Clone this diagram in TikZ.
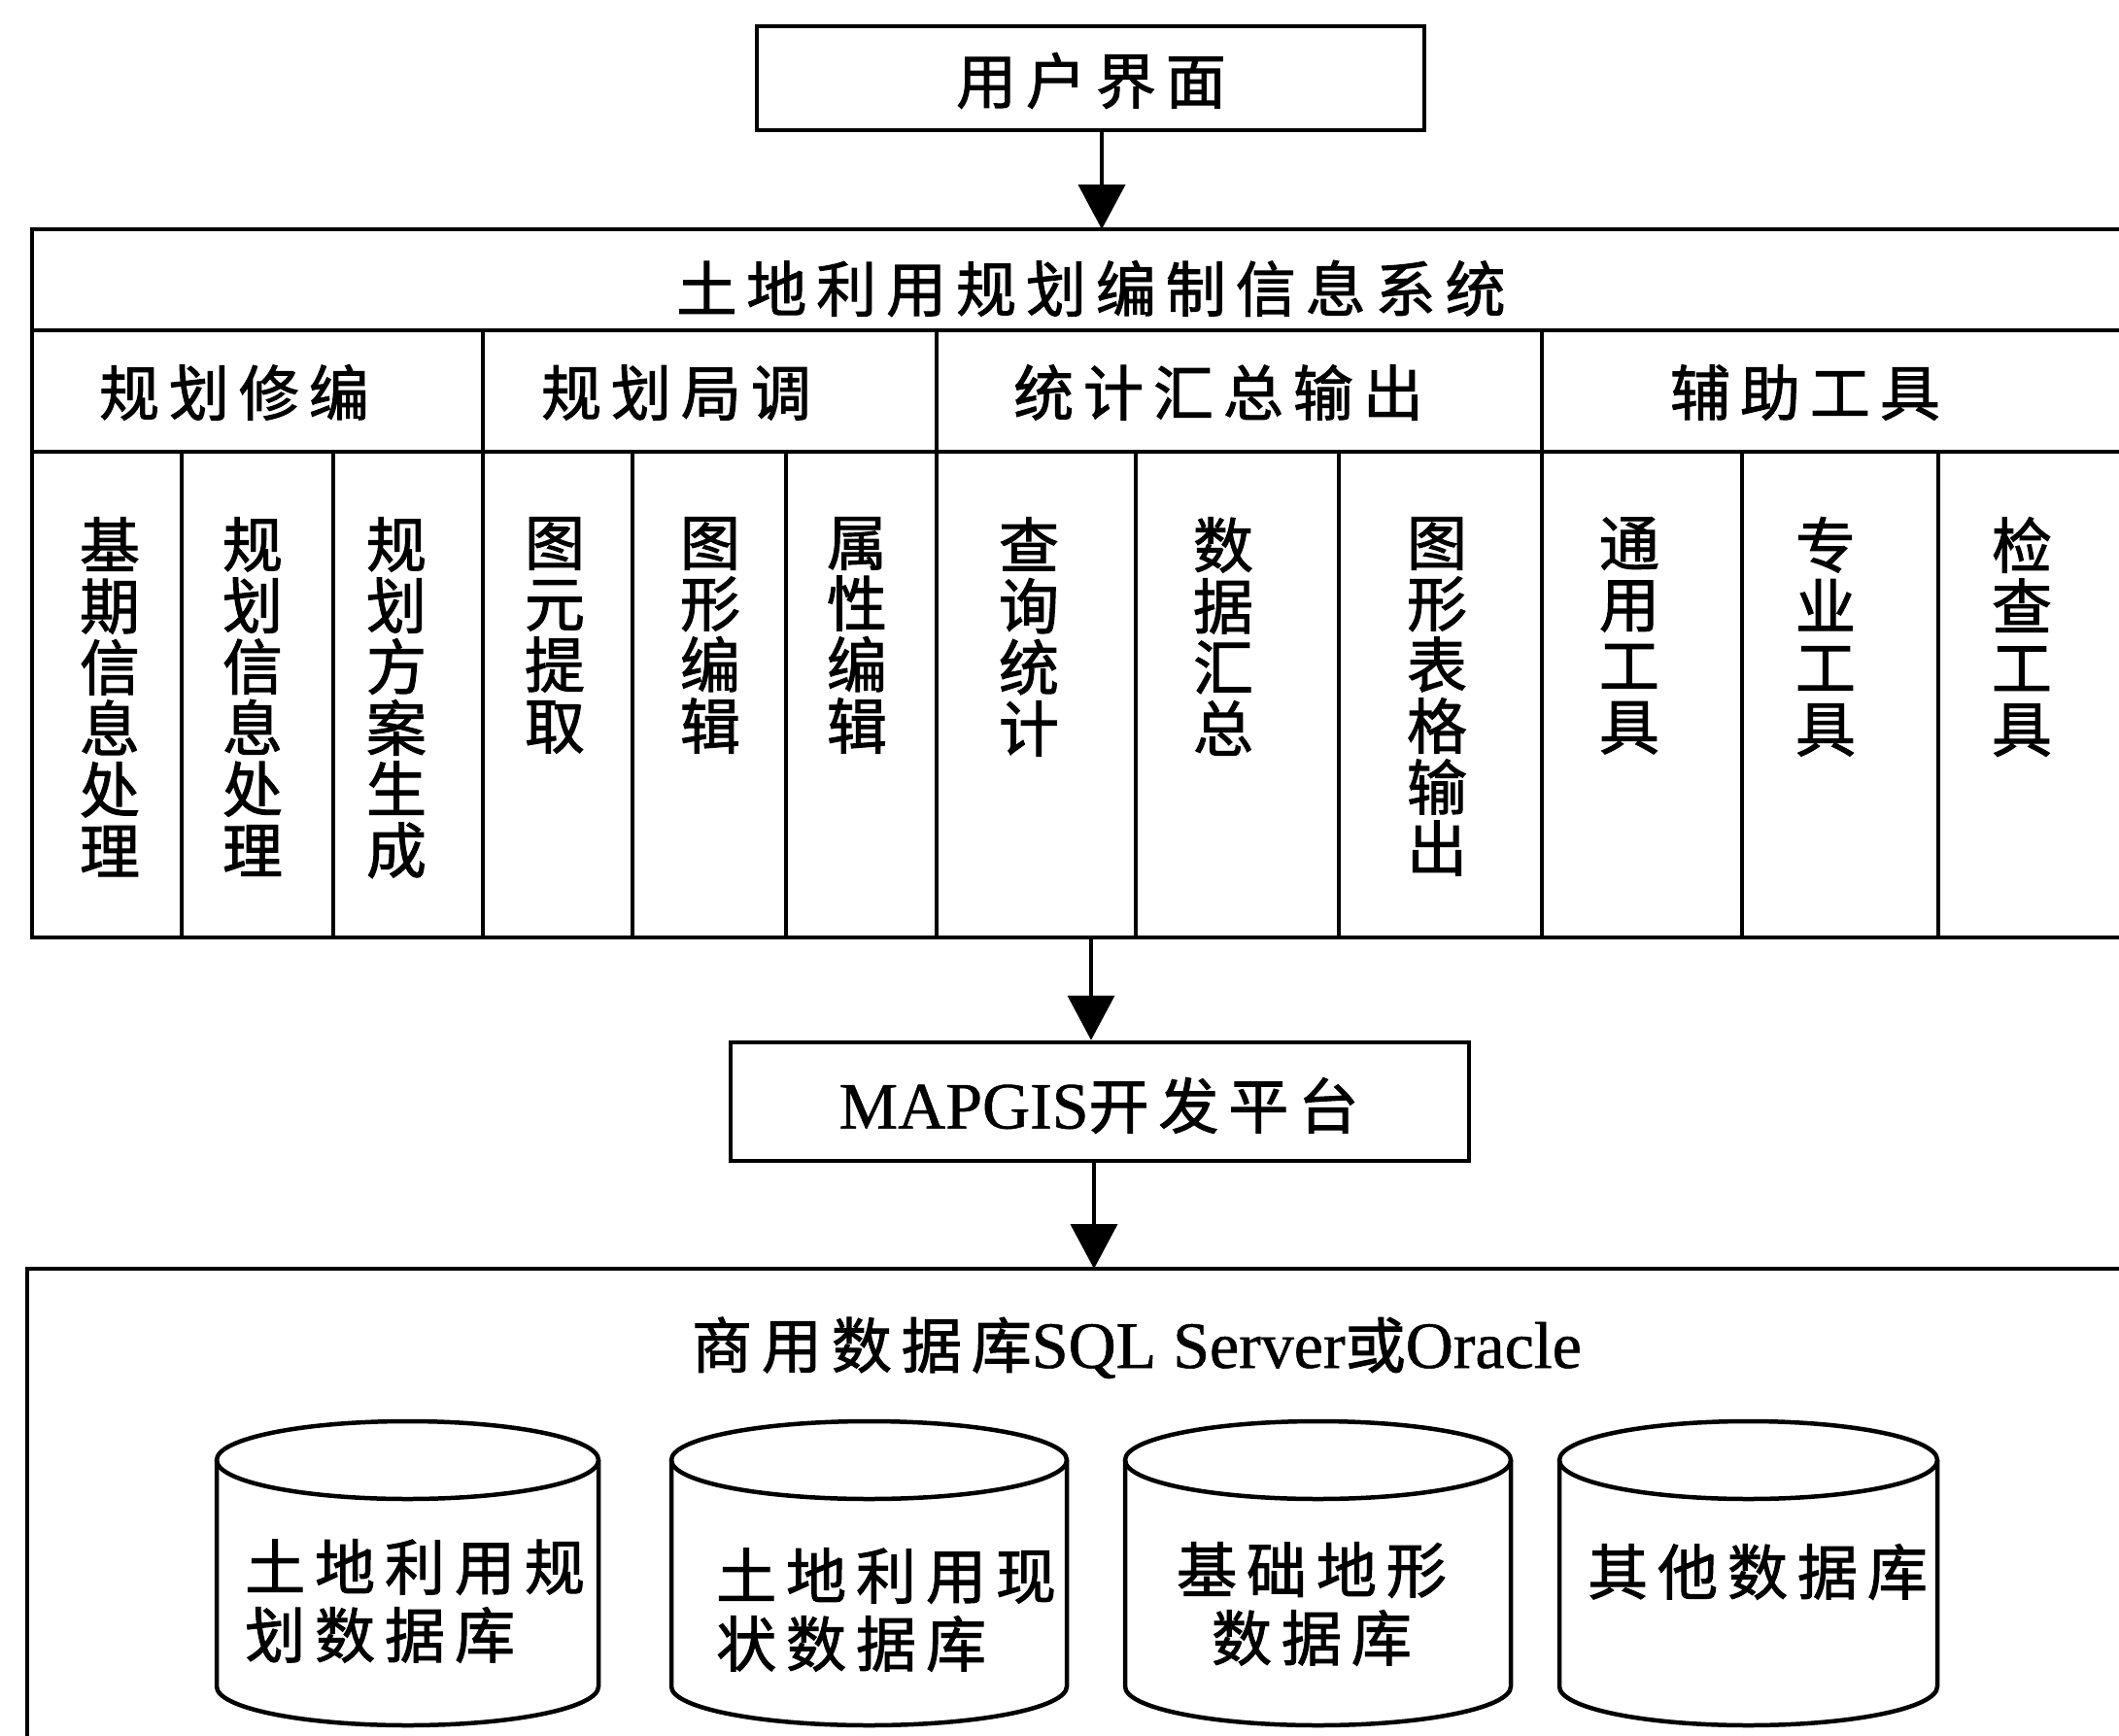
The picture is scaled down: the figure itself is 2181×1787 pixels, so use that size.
\documentclass[tikz,border=0pt]{standalone}
\usepackage{fontspec}
\setmainfont{Liberation Serif}
\newfontfamily\cjk{Noto Sans CJK SC}[LetterSpace=16,FakeBold=1.6]
\newfontfamily\cjkv{Noto Sans CJK SC}[FakeBold=1.6]
\newfontfamily\latn{Liberation Serif}[FakeBold=0.8]
\usetikzlibrary{arrows.meta}
\begin{document}
\begin{tikzpicture}[x=1pt,y=-1pt,
  line width=4.5pt,
  box/.style={draw, line width=4.5pt, inner sep=0pt},
  lbl/.style={font=\cjk\fontsize{62}{70}\selectfont, inner sep=0pt},
  vlbl/.style={font=\cjkv\fontsize{62}{63}\selectfont, align=center, anchor=north, inner sep=0pt},
  arr/.style={-{Triangle[length=46pt,width=48pt]}, line width=4pt}]
\useasboundingbox (0,0) rectangle (2181,1787);
\clip (0,0) rectangle (2181,1787);
\fill[white] (0,0) rectangle (2181,1787);

% user interface
\node[box, minimum width=687pt, minimum height=107pt] (user) at (1122.5,80.5) {};
\node[lbl] (userT) at (1123,83) {用户界面};

% system block
\draw (33,236) rectangle (2200,965);
\draw (33,340) -- (2200,340);
\draw (33,465) -- (2200,465);
\foreach \x in {497,964,1587} \draw (\x,340) -- (\x,965);
\foreach \x in {187,343,651,809,1169,1378,1793,1995} \draw (\x,465) -- (\x,965);
\coordinate (sysTop) at (1134,236);
\coordinate (sysBot) at (1123,965);

\node[lbl] (title) at (1123,297) {土地利用规划编制信息系统};
\node[lbl] (h1) at (241,404) {规划修编};
\node[lbl] (h2) at (696,404) {规划局调};
\node[lbl] (h3) at (1254,404) {统计汇总输出};
\node[lbl] (h4) at (1858,404) {辅助工具};

\node[vlbl] (c1) at (113,530) {基\\期\\信\\息\\处\\理};
\node[vlbl] (c2) at (260,530) {规\\划\\信\\息\\处\\理};
\node[vlbl] (c3) at (408,530) {规\\划\\方\\案\\生\\成};
\node[vlbl] (c4) at (571,530) {图\\元\\提\\取};
\node[vlbl] (c5) at (731,530) {图\\形\\编\\辑};
\node[vlbl] (c6) at (882,530) {属\\性\\编\\辑};
\node[vlbl] (c7) at (1059,530) {查\\询\\统\\计};
\node[vlbl] (c8) at (1259,530) {数\\据\\汇\\总};
\node[vlbl] (c9) at (1479,530) {图\\形\\表\\格\\输\\出};
\node[vlbl] (c10) at (1677,530) {通\\用\\工\\具};
\node[vlbl] (c11) at (1879,530) {专\\业\\工\\具};
\node[vlbl] (c12) at (2081,530) {检\\查\\工\\具};

% MAPGIS
\node[box, minimum width=760pt, minimum height=122pt] (mapgis) at (1132,1134) {};
\node[inner sep=0pt] (mapgisT) at (1131,1138) {\latn\fontsize{68}{70}\selectfont MAPGIS{\cjk\fontsize{62}{70}\selectfont 开发平台}};

% database block
\draw (28,1306) rectangle (2200,1820);
\coordinate (dbTop) at (1126,1306);
\node[inner sep=0pt, anchor=base] (dbT) at (1170,1408) {\latn\fontsize{68}{70}\selectfont{\cjk\fontsize{62}{70}\selectfont 商用数据库}SQL Server{\cjk\fontsize{62}{70}\selectfont 或}Oracle};

% cylinders
\foreach \l/\r in {223/616, 691/1098, 1158/1555, 1605/1994} {
  \pgfmathsetmacro\rx{(\r-\l)/2}
  \pgfmathsetmacro\cx{(\r+\l)/2}
  \draw[line width=4.5pt] (\cx,1503) ellipse [x radius=\rx, y radius=40];
  \draw[line width=4.5pt] (\l,1503) -- (\l,1736) arc[start angle=180, end angle=0, x radius=\rx, y radius=40] -- (\r,1503);
}
\node[lbl, anchor=west, align=left] (db1) at (250,1648) {土地利用规\\划数据库};
\node[lbl, anchor=west, align=left] (db2) at (735,1657) {土地利用现\\状数据库};
\node[lbl, align=center] (db3) at (1350,1651) {基础地形\\数据库};
\node[lbl, anchor=west] (db4) at (1632,1618) {其他数据库};

% arrows
\draw[arr] (user.south -| sysTop) -- (sysTop);
\draw[arr] (sysBot) -- (sysBot |- mapgis.north);
\draw[arr] (mapgis.south -| dbTop) -- (dbTop);
\end{tikzpicture}
\end{document}
